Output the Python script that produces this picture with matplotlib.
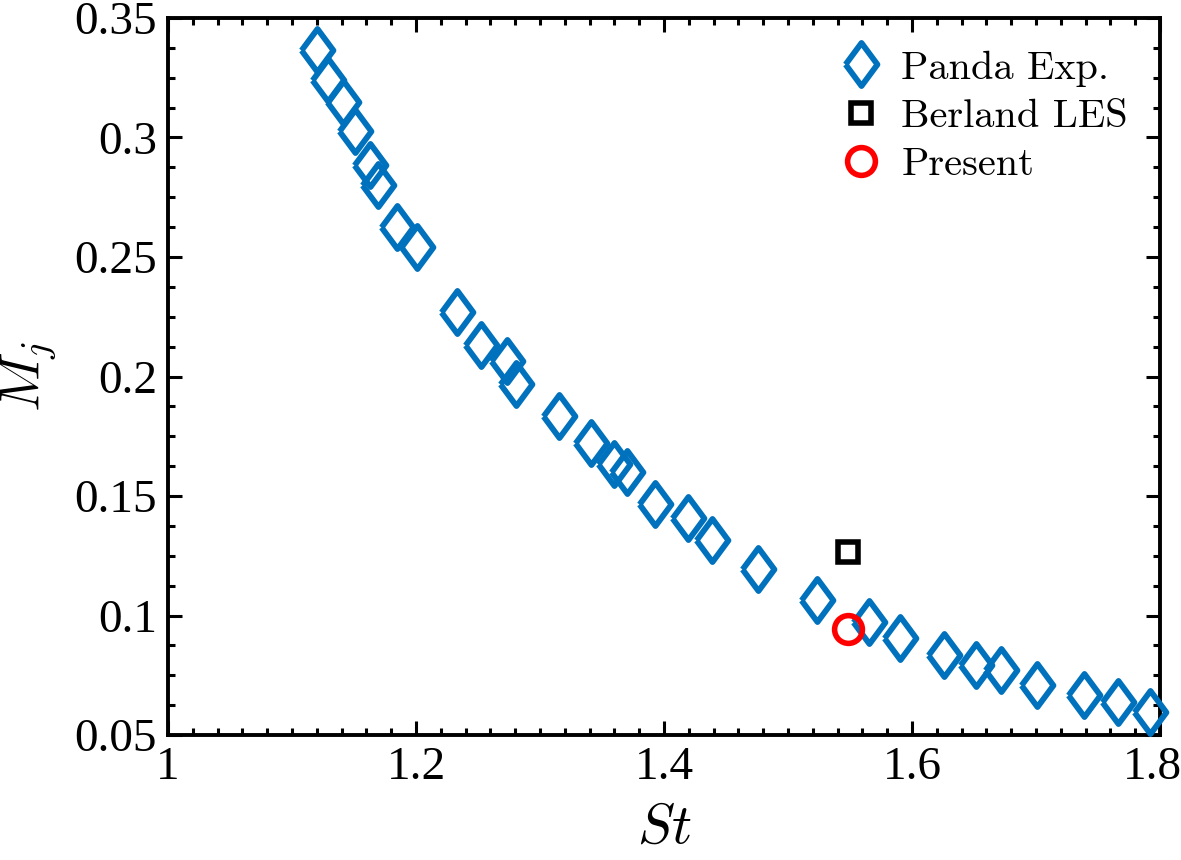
import matplotlib
matplotlib.use('Agg')
from matplotlib import pyplot as plt
from matplotlib.ticker import MultipleLocator
from matplotlib.transforms import ScaledTranslation

# Panda experiment data (Strouhal number vs jet Mach number)
st_panda = [1.120, 1.129, 1.141, 1.151, 1.163, 1.169, 1.185, 1.201, 1.233, 1.252,
            1.273, 1.281, 1.315, 1.341, 1.360, 1.370, 1.393, 1.419, 1.439, 1.476,
            1.523, 1.565, 1.590, 1.626, 1.652, 1.672, 1.701, 1.739, 1.766, 1.792]
mj_panda = [0.3366, 0.3241, 0.3149, 0.3028, 0.2885, 0.2802, 0.2627, 0.2543, 0.2271, 0.2133,
            0.2066, 0.1970, 0.1836, 0.1723, 0.1636, 0.1602, 0.1467, 0.1408, 0.1316, 0.1195,
            0.1066, 0.0971, 0.0904, 0.0833, 0.0795, 0.0774, 0.0711, 0.0667, 0.0638, 0.0596]

st_berland = [1.548]
mj_berland = [0.1266]

st_present = [1.548]
mj_present = [0.0944]

plt.rcParams['mathtext.fontset'] = 'cm'
plt.rcParams['font.family'] = ['Liberation Serif', 'DejaVu Serif']

fig = plt.figure(figsize=(11.81, 8.6), dpi=100)
ax = fig.add_axes([0.1423, 0.1453, 0.8399, 0.8338])

diamond = [(-0.37, 0), (0, 0.5), (0.37, 0), (0, -0.5), (-0.37, 0)]
ax.plot(st_panda, mj_panda, ls='none', marker=diamond, ms=31, mfc='none',
        mec='#0072BD', mew=4.2, label='Panda Exp.', clip_on=False, zorder=3)
ax.plot(st_berland, mj_berland, ls='none', marker='s', ms=15, mfc='none',
        mec='k', mew=4, label='Berland LES', zorder=4)
ax.plot(st_present, mj_present, ls='none', marker='o', ms=20, mfc='none',
        mec='#FF0000', mew=4, label='Present', zorder=5)

ax.set_xlim(1, 1.8)
ax.set_ylim(0.05, 0.35)
ax.xaxis.set_minor_locator(MultipleLocator(0.02))
ax.yaxis.set_minor_locator(MultipleLocator(0.0125))
ax.set_xticks([1, 1.2, 1.4, 1.6, 1.8])
ax.set_xticklabels(['1', '1.2', '1.4', '1.6', '1.8'])
ax.set_yticks([0.05, 0.1, 0.15, 0.2, 0.25, 0.3, 0.35])
ax.set_yticklabels(['0.05', '0.1', '0.15', '0.2', '0.25', '0.3', '0.35'])

ax.tick_params(which='both', direction='in', top=True, right=True, width=2.2, labelsize=34)
ax.tick_params(which='major', length=10, pad=8)
ax.tick_params(which='minor', length=5)
for s in ax.spines.values():
    s.set_linewidth(2.8)

# last x label sits slightly left so it stays inside the figure
last = ax.get_xticklabels()[-1]
last.set_transform(last.get_transform() + ScaledTranslation(-8 / 100, 0, fig.dpi_scale_trans))

ax.set_xlabel(r'$St$', fontsize=40, labelpad=10)
ax.set_ylabel(r'$M_j$', fontsize=40, labelpad=12)

ax.legend(loc='upper right', frameon=False, prop={'family': ['cmr10'], 'size': 29},
          handletextpad=0.2, labelspacing=0.3, borderaxespad=0.4, handlelength=1.6)

plt.savefig('out.png', dpi=100)
